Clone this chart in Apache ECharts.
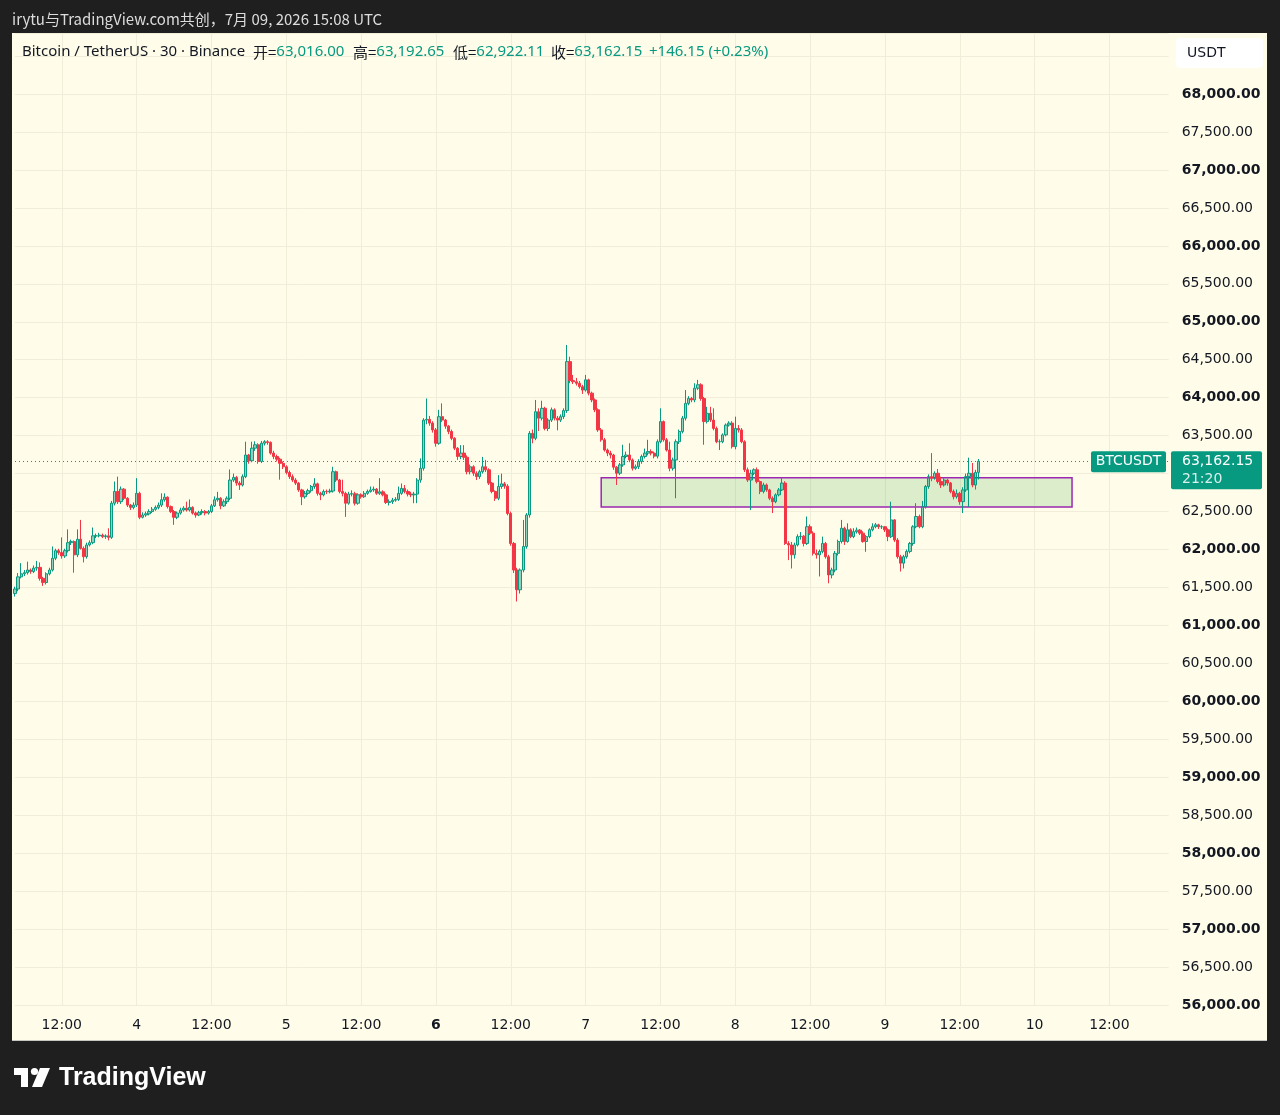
<!DOCTYPE html>
<html>
<head>
<meta charset="utf-8">
<script src="https://cdn.jsdelivr.net/npm/echarts@6/dist/echarts.min.js"></script>
<style>
  html, body { margin: 0; padding: 0; background: #1f1f1f; }
  #chart { width: 1280px; height: 1115px; }
</style>
</head>
<body>
<div id="chart"></div>
<script>
// BTCUSDT 30m candles, 3 Jul 04:30 UTC -> 9 Jul 15:00 UTC
const startTime = Date.UTC(2026, 6, 3, 4, 30)
const slotCount = 371 // visible slots incl. empty space on the right
const firstOpen = 61420

const closes = [
  61480, 61640, 61680, 61695, 61730, 61710, 61755, 61765, 61620, 61565,
  61680, 61730, 61885, 61985, 61960, 61915, 61985, 62090, 62105, 61930,
  62135, 62015, 61905, 62060, 62090, 62180, 62180, 62190, 62170, 62180,
  62160, 62610, 62765, 62630, 62795, 62675, 62585, 62555, 62585, 62740,
  62425, 62455, 62470, 62500, 62530, 62555, 62585, 62655, 62690, 62565,
  62500, 62425, 62480, 62520, 62545, 62520, 62555, 62480, 62455, 62485,
  62500, 62480, 62500, 62575, 62655, 62675, 62575, 62630, 62675, 62915,
  62950, 62875, 62850, 62960, 63245, 63170, 63335, 63380, 63160, 63400,
  63420, 63410, 63270, 63225, 63190, 63135, 63090, 63015, 62960, 62915,
  62875, 62785, 62695, 62740, 62775, 62830, 62865, 62740, 62720, 62765,
  62760, 62770, 63025, 62915, 62765, 62740, 62610, 62730, 62735, 62610,
  62720, 62695, 62740, 62765, 62785, 62795, 62740, 62760, 62720, 62620,
  62630, 62650, 62660, 62740, 62805, 62765, 62730, 62720, 62730, 62915,
  63070, 63705, 63715, 63665, 63575, 63400, 63750, 63705, 63625, 63555,
  63465, 63335, 63225, 63270, 63215, 63025, 63090, 63005, 62960, 63025,
  63090, 63050, 62875, 62765, 62675, 62830, 62865, 62835, 62475, 62080,
  61730, 61470, 61730, 62040, 62455, 63530, 63465, 63815, 63730, 63860,
  63595, 63705, 63840, 63730, 63705, 63750, 63830, 64475, 64225, 64210,
  64190, 64145, 64100, 64235, 64060, 63970, 63840, 63575, 63445, 63310,
  63270, 63245, 63085, 63005, 63115, 63225, 63245, 63180, 63070, 63090,
  63160, 63225, 63270, 63290, 63270, 63230, 63420, 63685, 63445, 63310,
  63070, 63180, 63420, 63555, 63730, 63925, 63990, 63970, 64125, 64170,
  63990, 63685, 63795, 63705, 63595, 63420, 63420, 63510, 63640, 63665,
  63355, 63595, 63575, 63420, 63050, 62915, 63005, 63050, 62895, 62765,
  62850, 62785, 62675, 62630, 62720, 62785, 62875, 62080, 62060, 61930,
  62060, 62170, 62175, 62080, 62300, 62215, 61950, 61930, 61975, 62080,
  61905, 61665, 61730, 61950, 62105, 62280, 62105, 62260, 62170, 62235,
  62255, 62215, 62105, 62170, 62260, 62300, 62325, 62300, 62300, 62260,
  62170, 62390, 62125, 61905, 61820, 61905, 61975, 62080, 62300, 62435,
  62300, 62565, 62830, 62960, 62940, 63005, 62895, 62850, 62915, 62875,
  62765, 62695, 62740, 62630, 62785, 62960, 63005, 62850, 63016, 63162.15,
]

const highs = [
  61510, 61690, 61820, 61730, 61840, 61750, 61790, 61850, 61830, 61640,
  61700, 61760, 62040, 62010, 62010, 62160, 62010, 62265, 62130, 62120,
  62265, 62390, 62040, 62090, 62120, 62290, 62210, 62220, 62210, 62200,
  62280, 62640, 62895, 62960, 62830, 62810, 62690, 62600, 62620, 62940,
  62760, 62490, 62500, 62530, 62560, 62580, 62620, 62740, 62740, 62700,
  62580, 62520, 62500, 62550, 62570, 62630, 62660, 62570, 62500, 62510,
  62530, 62520, 62520, 62600, 62700, 62760, 62690, 62660, 62700, 63055,
  63000, 62970, 62900, 62990, 63420, 63260, 63420, 63425, 63400, 63430,
  63440, 63440, 63425, 63300, 63250, 63210, 63160, 63110, 63040, 62990,
  62940, 62890, 62800, 62770, 62800, 62850, 62940, 62880, 62760, 62790,
  62790, 62800, 63090, 63040, 62930, 62920, 62760, 62760, 62780, 62760,
  62740, 62740, 62770, 62790, 62830, 62830, 62810, 62940, 62780, 62740,
  62660, 62680, 62690, 62830, 62870, 62850, 62790, 62760, 62760, 62940,
  63200, 63730, 63990, 63760, 63690, 63600, 63840, 63925, 63720, 63640,
  63580, 63480, 63350, 63375, 63375, 63240, 63120, 63110, 63030, 63050,
  63220, 63180, 63070, 62890, 62780, 62980, 63000, 62890, 62860, 62500,
  62100, 61760, 61750, 62390, 62480, 63560, 63580, 63970, 63860, 63960,
  63880, 63730, 63870, 63860, 63760, 63780, 63860, 64695, 64540, 64300,
  64260, 64220, 64170, 64300, 64250, 64080, 63990, 63860, 63600, 63470,
  63330, 63300, 63260, 63100, 63140, 63380, 63290, 63400, 63200, 63120,
  63190, 63250, 63330, 63445, 63320, 63290, 63450, 63860, 63700, 63470,
  63420, 63210, 63450, 63580, 63760, 64100, 64020, 64010, 64190, 64235,
  64190, 64010, 63880, 63880, 63860, 63620, 63450, 63530, 63660, 63690,
  63690, 63750, 63640, 63600, 63440, 63080, 63050, 63070, 63080, 62910,
  62880, 62870, 62800, 62700, 62740, 62810, 62945, 62900, 62110, 62100,
  62090, 62200, 62230, 62190, 62435, 62330, 62240, 62000, 62000, 62170,
  62100, 61930, 61760, 61980, 62130, 62390, 62300, 62345, 62280, 62280,
  62290, 62270, 62240, 62190, 62280, 62345, 62350, 62340, 62320, 62310,
  62280, 62630, 62400, 62150, 61930, 61930, 62000, 62100, 62320, 62610,
  62460, 62640, 62850, 62990, 63270, 63030, 63060, 62960, 62940, 62930,
  62890, 62790, 62790, 62760, 62820, 63000, 63210, 63140, 63050, 63192.65,
]

const lows = [
  61380, 61450, 61620, 61650, 61670, 61680, 61690, 61720, 61590, 61520,
  61540, 61660, 61710, 61860, 61930, 61880, 61890, 61960, 62060, 61695,
  61900, 62000, 61830, 61880, 62040, 62070, 62150, 62160, 62150, 62140,
  62120, 62140, 62580, 62600, 62600, 62650, 62560, 62520, 62530, 62560,
  62400, 62410, 62430, 62450, 62480, 62510, 62530, 62560, 62630, 62540,
  62480, 62325, 62400, 62460, 62500, 62500, 62500, 62460, 62420, 62440,
  62460, 62450, 62460, 62480, 62560, 62630, 62530, 62560, 62600, 62650,
  62890, 62840, 62785, 62830, 62940, 63130, 63150, 63300, 63130, 63140,
  63370, 63380, 63250, 63190, 63160, 62920, 63060, 62990, 62930, 62890,
  62850, 62760, 62585, 62670, 62720, 62750, 62800, 62710, 62650, 62700,
  62730, 62740, 62750, 62890, 62740, 62700, 62430, 62590, 62700, 62580,
  62590, 62670, 62680, 62720, 62750, 62760, 62720, 62720, 62700, 62600,
  62580, 62600, 62630, 62640, 62720, 62740, 62700, 62690, 62610, 62610,
  62880, 63040, 63650, 63630, 63540, 63355, 63380, 63680, 63590, 63520,
  63440, 63310, 63180, 63190, 63180, 62990, 62990, 62970, 62915, 62930,
  63000, 63020, 62850, 62740, 62640, 62650, 62800, 62800, 62450, 62050,
  61690, 61315, 61420, 61700, 62010, 62420, 63400, 63440, 63560, 63700,
  63570, 63560, 63680, 63700, 63570, 63680, 63720, 63800, 64190, 64180,
  64160, 64120, 64050, 64080, 64030, 63940, 63810, 63550, 63420, 63290,
  63230, 63200, 63050, 62850, 62980, 63090, 63200, 63150, 63040, 63050,
  63060, 63130, 63200, 63240, 63240, 63200, 63200, 63400, 63420, 63290,
  63030, 63040, 62675, 63390, 63530, 63700, 63900, 63940, 63940, 64100,
  63960, 63380, 63660, 63680, 63570, 63400, 63310, 63400, 63490, 63620,
  63330, 63320, 63540, 63400, 63020, 62890, 62520, 62980, 62870, 62730,
  62740, 62760, 62650, 62480, 62610, 62700, 62770, 62060, 61860, 61750,
  61880, 62040, 62130, 62040, 62060, 62190, 61920, 61880, 61645, 61950,
  61880, 61555, 61620, 61700, 61920, 62080, 62060, 62090, 62150, 62150,
  62210, 62190, 62090, 61970, 62150, 62240, 62280, 62270, 62270, 62230,
  62110, 62150, 62100, 61880, 61710, 61750, 61880, 61950, 62050, 62280,
  62280, 62280, 62540, 62800, 62900, 62920, 62870, 62810, 62830, 62840,
  62740, 62660, 62670, 62590, 62480, 62760, 62560, 62820, 62790, 62922.11,
]

// drawn rectangle (zone) : slot indices and prices
const zoneSlots = [188, 339]
const zonePrices = [62945, 62560]

const headerTitle = 'irytu与TradingView.com共创，7月 09, 2026 15:08 UTC'
const legendItems = [
  ['开=', '63,016.00'],
  ['高=', '63,192.65'],
  ['低=', '62,922.11'],
  ['收=', '63,162.15'],
]
const changeText = '+146.15 (+0.23%)'
const countdownText = '21:20'

const UP = '#089981'
const DOWN = '#f23645'
const INK = '#131722'
const PANEL = '#fffde9'
const GRID_LINE = '#f0eed8'

const HALF_HOUR = 30 * 60 * 1000
const categories = []
for (let i = 0; i < slotCount; i++) {
  categories.push(new Date(startTime + i * HALF_HOUR).toISOString().slice(0, 16))
}

const candles = closes.map((c, i) => {
  const o = i === 0 ? firstOpen : closes[i - 1]
  const h = Math.max(highs[i], o, c)
  const l = Math.min(lows[i], o, c)
  return [o, c, l, h]
})
const lastClose = closes[closes.length - 1]

function isLabelSlot(i) {
  const d = new Date(startTime + i * HALF_HOUR)
  return d.getUTCMinutes() === 0 && (d.getUTCHours() === 0 || d.getUTCHours() === 12)
}

function timeLabel(value, i) {
  const d = new Date(startTime + i * HALF_HOUR)
  if (d.getUTCHours() === 12) return '{n|12:00}'
  const day = d.getUTCDate()
  // monday (week start) in bold, like TradingView
  return d.getUTCDay() === 1 ? `{b|${day}}` : `{n|${day}}`
}

function priceLabel(v) {
  const s = v.toLocaleString('en-US', { minimumFractionDigits: 2, maximumFractionDigits: 2 })
  return v % 1000 === 0 ? `{b|${s}}` : `{n|${s}}`
}

const labelFont = 'DejaVu Sans'
const richLabels = {
  n: { fontSize: 14, fontFamily: labelFont, color: INK },
  b: { fontSize: 14, fontFamily: labelFont, color: INK, fontWeight: 'bold' },
}

const chart = echarts.init(document.getElementById('chart'), null, { renderer: 'canvas' })

const option = {
  backgroundColor: '#1f1f1f',
  animation: false,
  grid: { left: 15, right: 111.3, top: 33.3, bottom: 110, containLabel: false },
  xAxis: {
    type: 'category',
    data: categories,
    boundaryGap: false,
    axisLine: { show: false },
    axisTick: { show: false },
    axisLabel: {
      interval: (i) => isLabelSlot(i),
      formatter: timeLabel,
      margin: 13,
      rich: richLabels,
    },
    splitLine: {
      show: true,
      interval: (i) => isLabelSlot(i),
      lineStyle: { color: GRID_LINE, width: 1 },
    },
  },
  yAxis: {
    type: 'value',
    position: 'right',
    min: 56000,
    max: 68800,
    interval: 500,
    axisLine: { show: false },
    axisTick: { show: false },
    splitLine: { lineStyle: { color: GRID_LINE, width: 1 } },
    axisLabel: {
      margin: 13,
      showMaxLabel: false,
      formatter: priceLabel,
      rich: richLabels,
    },
  },
  series: [
    {
      type: 'candlestick',
      data: candles,
      barWidth: 2.8,
      clip: false,
      itemStyle: {
        color: 'rgba(8,153,129,0.45)',
        color0: DOWN,
        borderColor: UP,
        borderColor0: DOWN,
        borderWidth: 1,
      },
      markArea: {
        silent: true,
        itemStyle: {
          color: 'rgba(76,175,80,0.2)',
          borderColor: '#9c27b0',
          borderWidth: 1.5,
        },
        data: [[
          { coord: [zoneSlots[0], zonePrices[0]] },
          { coord: [zoneSlots[1], zonePrices[1]] },
        ]],
      },
      markLine: {
        silent: true,
        symbol: 'none',
        label: { show: false },
        lineStyle: { color: UP, type: [1, 3], width: 1 },
        data: [{ yAxis: lastClose }],
      },
    },
  ],
}

chart.setOption(option)

// overlays that depend on pixel positions
const py = chart.convertToPixel({ yAxisIndex: 0 }, lastClose)
const legendX = [253, 353, 453, 551]

const graphics = [
  {
    type: 'rect', z: -10, silent: true,
    shape: { x: 12, y: 33, width: 1255, height: 1008 },
    style: { fill: PANEL },
  },
  {
    type: 'rect', z: -9, silent: true,
    shape: { x: 12, y: 1040, width: 1255, height: 1 },
    style: { fill: '#c8c8c0' },
  },
  {
    type: 'text', x: 12, y: 19, z: 50,
    style: { text: headerTitle, fill: '#dcdcdc', fontSize: 15, fontFamily: 'Noto Sans CJK SC', verticalAlign: 'middle' },
  },
  {
    type: 'text', x: 22, y: 52, z: 50,
    style: { text: 'Bitcoin / TetherUS · 30 · Binance', fill: INK, fontSize: 15, fontFamily: 'Noto Sans', verticalAlign: 'middle' },
  },
  ...legendItems.map(([k, v], i) => ({
    type: 'text', x: legendX[i], y: 52, z: 50,
    style: {
      text: `{k|${k}}{v|${v}}`,
      verticalAlign: 'middle',
      rich: {
        k: { fill: INK, color: INK, fontSize: 15, fontFamily: 'Noto Sans CJK SC' },
        v: { fill: UP, color: UP, fontSize: 15, fontFamily: 'Noto Sans' },
      },
    },
  })),
  {
    type: 'text', x: 649, y: 52, z: 50,
    style: { text: changeText, fill: UP, fontSize: 15, fontFamily: 'Noto Sans', verticalAlign: 'middle' },
  },
  // currency badge
  {
    type: 'rect', z: 50,
    shape: { x: 1176, y: 38, width: 87, height: 30, r: 4 },
    style: { fill: '#ffffff' },
  },
  {
    type: 'text', x: 1187, y: 53, z: 51,
    style: { text: 'USDT', fill: INK, fontSize: 14, fontFamily: labelFont, verticalAlign: 'middle' },
  },
  // last price tags
  {
    type: 'rect', z: 60,
    shape: { x: 1091, y: py - 10, width: 75, height: 21, r: 2 },
    style: { fill: UP },
  },
  {
    type: 'text', x: 1128.5, y: py + 0.5, z: 61,
    style: { text: 'BTCUSDT', fill: '#ffffff', fontSize: 14, fontFamily: labelFont, align: 'center', verticalAlign: 'middle' },
  },
  {
    type: 'rect', z: 60,
    shape: { x: 1171, y: py - 10, width: 91, height: 38, r: 2 },
    style: { fill: UP },
  },
  {
    type: 'text', x: 1182, y: py + 0.5, z: 61,
    style: { text: lastClose.toLocaleString('en-US', { minimumFractionDigits: 2 }), fill: '#ffffff', fontSize: 14, fontFamily: labelFont, verticalAlign: 'middle' },
  },
  {
    type: 'text', x: 1182, y: py + 18, z: 61,
    style: { text: countdownText, fill: 'rgba(255,255,255,0.85)', fontSize: 14, fontFamily: labelFont, verticalAlign: 'middle' },
  },
  // TradingView mark
  {
    type: 'group', x: 14, y: 1068, z: 50,
    children: [
      { type: 'rect', shape: { x: 0, y: 0, width: 14, height: 7 }, style: { fill: '#ffffff' } },
      { type: 'rect', shape: { x: 7, y: 0, width: 7, height: 19 }, style: { fill: '#ffffff' } },
      { type: 'circle', shape: { cx: 20.5, cy: 3.5, r: 3.6 }, style: { fill: '#ffffff' } },
      { type: 'polygon', shape: { points: [[26, 0], [36, 0], [28, 19], [18, 19]] }, style: { fill: '#ffffff' } },
    ],
  },
  {
    type: 'text', x: 59, y: 1078, z: 50,
    style: { text: 'TradingView', fill: '#ffffff', fontSize: 25, fontWeight: 'bold', fontFamily: 'Liberation Sans', verticalAlign: 'middle' },
  },
]

chart.setOption({ graphic: graphics })
</script>
</body>
</html>
